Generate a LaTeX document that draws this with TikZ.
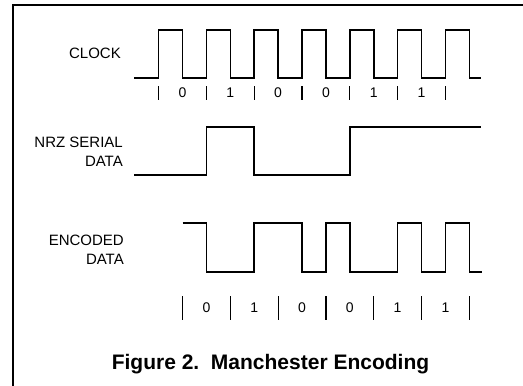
\documentclass[tikz,border=0pt]{standalone}
\usepackage{fontspec}
\setmainfont{Liberation Sans}
\begin{document}
\begin{tikzpicture}[x=1pt, y=-1pt]
    \tikzset{wave/.style={line width=1.6pt, line join=miter},
             tick/.style={line width=1.2pt},
             lbl/.style={anchor=east, align=right, inner sep=0pt, font=\fontsize{15}{19}\selectfont},
             bit/.style={inner sep=0pt, font=\fontsize{14}{16}\selectfont}}
    \useasboundingbox (0,0) rectangle (523,386);

    % Frame (only left and top edges show)
    \draw[line width=1.8pt] (13,386) -- (13,4.7) -- (523,4.7);

    % Signal names
    \node[lbl] (clk_lbl) at (121,53.5) {CLOCK};
    \node[lbl] (nrz_lbl) at (123,152) {NRZ SERIAL\\DATA};
    \node[lbl] (enc_lbl) at (124,249.5) {ENCODED\\DATA};

    % Clock: rising edges at 158.5 + 47.8k
    \draw[wave] (134,78) foreach \k in {0,...,6} {
        -- ({158.5+47.8*\k},78) -- ({158.5+47.8*\k},30)
        -- ({182.5+47.8*\k},30) -- ({182.5+47.8*\k},78)} -- (481,78);

    % Bit cells under the clock
    \foreach \k in {0,...,6}
        \draw[tick] ({158.5+47.8*\k},86) -- ({158.5+47.8*\k},100);
    \foreach \b [count=\k from 0] in {0,1,0,0,1,1}
        \node[bit] (top\k) at ({182.5+47.8*\k},93) {\b};

    % NRZ serial data
    \draw[wave] (134,175) -| (206.3,127) -| (254.1,175) -| (349.7,127) -- (481,127);

    % Manchester encoded data
    \draw[wave] (182.5,223) -| (206.3,272) -| (254.1,223) -| (301.9,272)
        -| (325.9,223) -| (349.7,272) -| (397.5,223) -| (421.5,272)
        -| (445.3,223) -| (469.3,272) -- (482,272);

    % Bit cells under the encoded data
    \foreach \k in {0,...,6}
        \draw[tick] ({182.5+47.8*\k},296) -- ({182.5+47.8*\k},320);
    \foreach \b [count=\k from 0] in {0,1,0,0,1,1}
        \node[bit] (bot\k) at ({206.4+47.8*\k},308) {\b};

    % Caption
    \node[font=\fontsize{21}{24}\selectfont\bfseries] (caption) at (270.5,364) {Figure 2.\ \ Manchester Encoding};
\end{tikzpicture}
\end{document}
